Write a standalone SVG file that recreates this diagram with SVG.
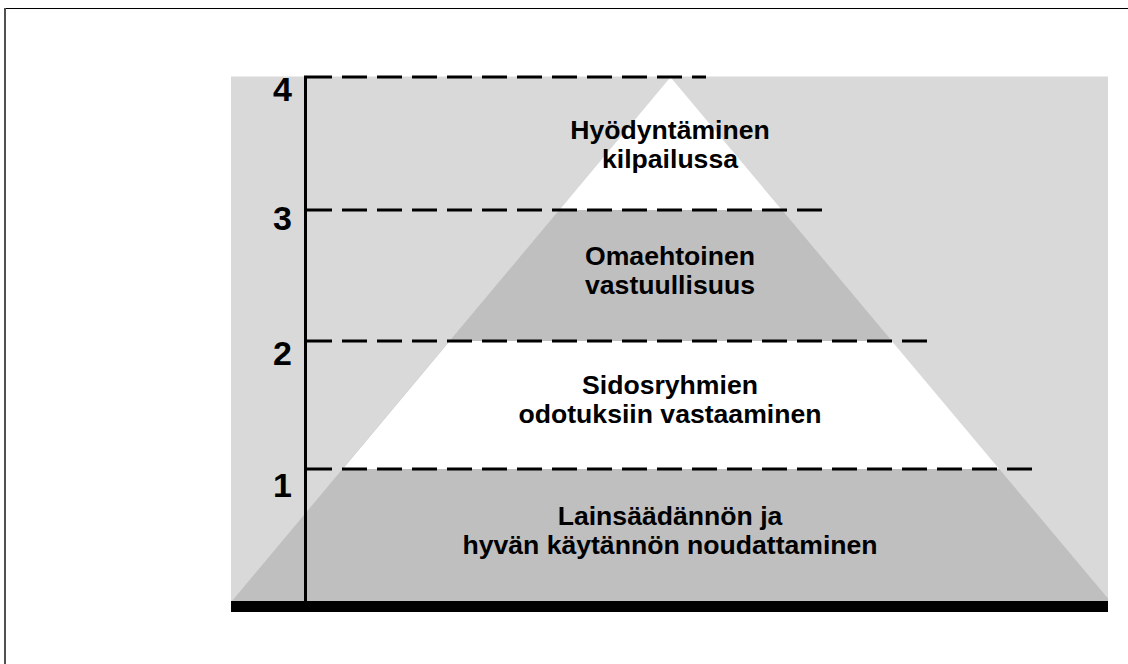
<svg xmlns="http://www.w3.org/2000/svg" width="1128" height="664" viewBox="0 0 1128 664">
  <style>
    .lbl { font-family: "Liberation Sans", Arial, sans-serif; font-weight: bold; font-size: 26.6px; fill: #000; text-anchor: middle; }
    .num { font-family: "Liberation Sans", Arial, sans-serif; font-weight: bold; font-size: 34px; fill: #000; text-anchor: middle; }
    .dash { stroke: #000; stroke-width: 3; stroke-dasharray: 25 10; fill: none; }
  </style>
  <rect x="0" y="0" width="1128" height="664" fill="#fff"/>
  <!-- frame -->
  <line x1="4" y1="8.5" x2="1128" y2="8.5" stroke="#000" stroke-width="1.2"/>
  <line x1="5" y1="8" x2="5" y2="664" stroke="#505050" stroke-width="2"/>

  <!-- background and pyramid -->
  <g id="background">
    <rect x="231" y="76.5" width="877" height="525" fill="#d9d9d9"/>
    <polygon points="670.5,77 1108,598.6 1108,601 232,601" fill="#bfbfbf"/>
    <polygon points="670.5,77 782,210 559.3,210" fill="#ffffff"/>
    <polygon points="449.8,341 891.9,341 999.3,469 342.8,469" fill="#ffffff"/>
  </g>

  <g id="level4">
    <text class="lbl" x="670" y="139">Hyödyntäminen</text>
    <text class="lbl" x="670" y="168">kilpailussa</text>
  </g>
  <g id="level3">
    <text class="lbl" x="670" y="265">Omaehtoinen</text>
    <text class="lbl" x="670" y="294">vastuullisuus</text>
  </g>
  <g id="level2">
    <text class="lbl" x="670" y="394">Sidosryhmien</text>
    <text class="lbl" x="670" y="423">odotuksiin vastaaminen</text>
  </g>
  <g id="level1">
    <text class="lbl" x="670" y="525">Lainsäädännön ja</text>
    <text class="lbl" x="670" y="554">hyvän käytännön noudattaminen</text>
  </g>

  <g id="axis">
    <line x1="305.5" y1="75.5" x2="305.5" y2="601" stroke="#000" stroke-width="3"/>
    <rect x="231" y="601" width="877" height="11" fill="#000"/>
    <text class="num" x="282.5" y="101">4</text>
    <text class="num" x="282.5" y="230">3</text>
    <text class="num" x="282.5" y="365">2</text>
    <text class="num" x="282.5" y="497">1</text>
  </g>

  <g id="connectors">
    <line class="dash" x1="307" y1="77" x2="706" y2="77"/>
    <line class="dash" x1="307" y1="210" x2="823" y2="210"/>
    <line class="dash" x1="307" y1="341" x2="930" y2="341"/>
    <line class="dash" x1="307" y1="469" x2="1032" y2="469"/>
  </g>
</svg>
